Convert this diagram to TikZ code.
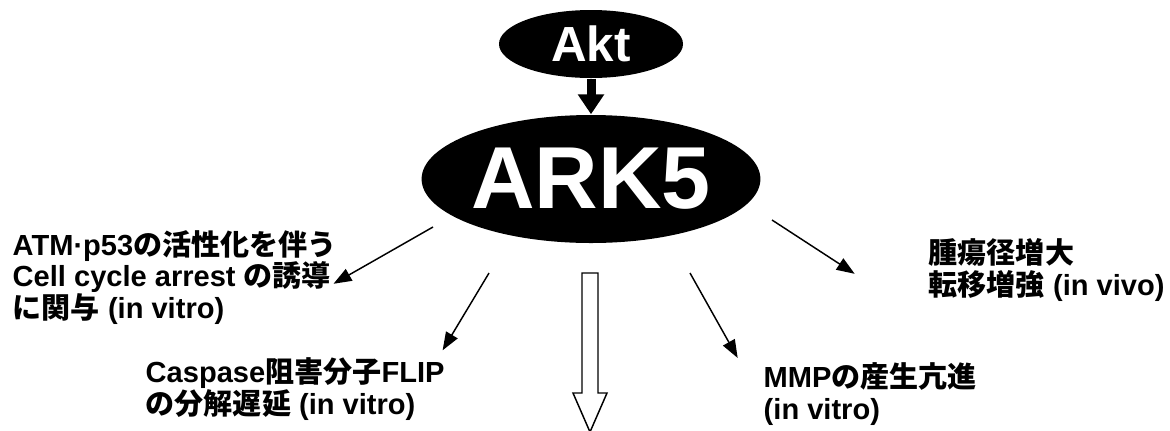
\documentclass[tikz,border=0pt]{standalone}
\usepackage{fontspec}
\setmainfont{Liberation Sans}
\newfontfamily\jpfont{Noto Sans CJK JP}
\newcommand{\ja}[1]{{\jpfont #1}}
\usetikzlibrary{positioning, shapes.geometric, arrows.meta}

\begin{document}
\begin{tikzpicture}[
  x=0.75pt, y=-0.75pt,
  kinase/.style={
    ellipse,
    fill=black,
    text=white,
    inner sep=0pt
  },
  effect/.style={
    align=left,
    inner sep=0pt,
    anchor=base west,
    font=\fontsize{21.8}{23.6}\selectfont\bfseries
  },
  >={Triangle[length=13.5pt, width=10pt]},
  line width=1.1pt
]
\useasboundingbox (0,0) rectangle (1170,430);

% Akt
\node[kinase, minimum width=138pt, minimum height=51pt,
  font=\fontsize{37}{37}\selectfont\bfseries] (Akt) at (591,44) {Akt};

% ARK5
\node[kinase, minimum width=240pt, minimum height=96pt,
  font=\fontsize{66}{66}\selectfont\bfseries] (ARK5) at (591,179) {ARK5};

% downstream effects (base = last line)
\node[effect] (CellCycle) at (12,318) {ATM·p53\ja{の活性化を伴う}\\
  Cell cycle arrest \ja{の誘導}\\
  \ja{に関与} (in vitro)};
\node[effect] (FLIP) at (145,414) {Caspase\ja{阻害分子}FLIP\\
  \ja{の分解遅延} (in vitro)};
\node[effect] (MMP) at (763,419) {MMP\ja{の産生亢進}\\
  (in vitro)};
\node[effect] (Tumor) at (928,295) {\ja{腫瘍径増大}\\
  \ja{転移増強} (in vivo)};

% arrow starts below ARK5
\coordinate (toCellCycle) at (433,227);
\coordinate (toFLIP) at (489,273);
\coordinate (toMMP) at (690,273);
\coordinate (toTumor) at (772,220);

% Relationships
\draw[line width=6.75pt, -{Triangle[length=15pt, width=19pt]}] (Akt.south) -- (ARK5.north);
\draw[->] (toCellCycle) -- ([xshift=-3pt, yshift=-5pt]CellCycle.east);
\draw[->] (toFLIP) -- ([xshift=-2pt, yshift=5pt]FLIP.north east);
\draw[->] (toMMP) -- ([xshift=-19pt, yshift=3pt]MMP.north west);
\draw[->] (toTumor) -- ([xshift=-55pt, yshift=-3pt]Tumor.west);

% open arrow downwards
\draw[fill=white] (582,273) -- (598,273) -- (598,393) -- (607,393)
  -- (590,432) -- (573,393) -- (582,393) -- cycle;

\end{tikzpicture}
\end{document}
